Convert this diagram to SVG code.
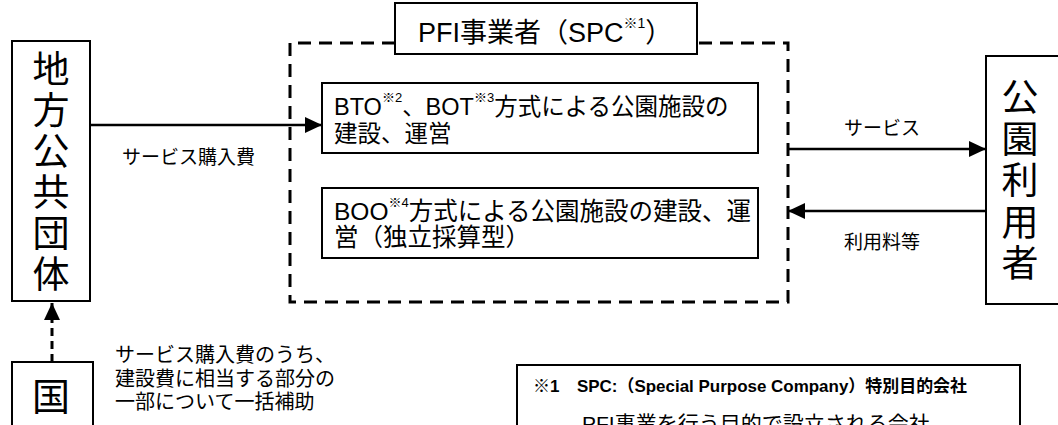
<svg xmlns="http://www.w3.org/2000/svg" width="1058" height="425" viewBox="0 0 1058 425">
<style>
.t{font-family:"Liberation Sans","Noto Sans CJK JP",sans-serif;fill:#000}
.box{fill:#fff;stroke:#000;stroke-width:2}
.big{font-size:37px;text-anchor:middle}
.lbl{font-size:19px}
.cn{stroke:#000;stroke-width:2.5;fill:none}
.dash{stroke:#000;stroke-width:3;fill:none;stroke-dasharray:13 8}
</style>
<defs>
<marker id="ah" viewBox="0 0 17 16" refX="17" refY="8" markerWidth="17" markerHeight="16" markerUnits="userSpaceOnUse" orient="auto">
<path d="M0,0 L17,8 L0,16 z" fill="#000" stroke="none"/>
</marker>
</defs>
<rect width="1058" height="425" fill="#fff"/>

<g id="spc">
<path class="dash" d="M395,43 H290 V302 H788 V43 H697"/>
<rect class="box" x="395" y="3" width="302" height="51"/>
<text class="t" x="418" y="42" font-size="27">PFI事業者（SPC<tspan font-size="14" dy="-14">※1</tspan><tspan dy="14">）</tspan></text>
</g>

<g id="bto">
<rect class="box" x="322" y="83" width="436" height="70"/>
<text class="t" x="334" y="115" font-size="23.5">BTO<tspan font-size="13" dy="-13">※2</tspan><tspan dy="13">、BOT</tspan><tspan font-size="13" dy="-13">※3</tspan><tspan dy="13">方式による公園施設の</tspan></text>
<text class="t" x="334" y="142" font-size="23.5">建設、運営</text>
</g>

<g id="boo">
<rect class="box" x="322" y="188" width="436" height="70"/>
<text class="t" x="334" y="220" font-size="24.5">BOO<tspan font-size="13" dy="-13">※4</tspan><tspan dy="13">方式による公園施設の建設、運</tspan></text>
<text class="t" x="334" y="246" font-size="24.5">営（独立採算型）</text>
</g>

<g id="chiho">
<rect class="box" x="12" y="41" width="78" height="260"/>
<text class="t big" x="51" y="83">地<tspan x="51" dy="41">方</tspan><tspan x="51" dy="41">公</tspan><tspan x="51" dy="41">共</tspan><tspan x="51" dy="41">団</tspan><tspan x="51" dy="41">体</tspan></text>
</g>

<g id="riyosha">
<rect class="box" x="986" y="56" width="90" height="248"/>
<text class="t big" x="1020" y="111">公<tspan x="1020" dy="41.5">園</tspan><tspan x="1020" dy="41.5">利</tspan><tspan x="1020" dy="41.5">用</tspan><tspan x="1020" dy="41.5">者</tspan></text>
</g>

<g id="kuni">
<rect class="box" x="12" y="362" width="81" height="80"/>
<text class="t" x="51" y="410" font-size="38" text-anchor="middle">国</text>
</g>

<g id="note">
<rect class="box" x="517" y="365" width="503" height="80"/>
<text class="t" x="533" y="392" font-size="17" font-weight="bold">※1</text>
<text class="t" x="577" y="392" font-size="17" font-weight="bold" textLength="390" lengthAdjust="spacingAndGlyphs">SPC:（Special Purpose Company）特別目的会社</text>
<text class="t" x="582" y="431" font-size="21">PFI事業を行う目的で設立される会社</text>
</g>

<g id="connectors">
<line class="cn" x1="90" y1="125" x2="322" y2="125" marker-end="url(#ah)"/>
<line class="cn" x1="788" y1="149" x2="986" y2="149" marker-end="url(#ah)"/>
<line class="cn" x1="986" y1="211" x2="788" y2="211" marker-end="url(#ah)"/>
<path d="M52,362 V303" stroke="#000" stroke-width="3" stroke-dasharray="8 5" fill="none" marker-end="url(#ah)"/>
</g>

<g id="labels">
<text class="t lbl" x="122" y="164">サービス購入費</text>
<text class="t lbl" x="882" y="135" text-anchor="middle">サービス</text>
<text class="t lbl" x="882" y="249" text-anchor="middle">利用料等</text>
<text class="t" x="115" y="362" font-size="20">サービス購入費のうち、</text>
<text class="t" x="115" y="385.5" font-size="20">建設費に相当する部分の</text>
<text class="t" x="115" y="409" font-size="20">一部について一括補助</text>
</g>
</svg>
